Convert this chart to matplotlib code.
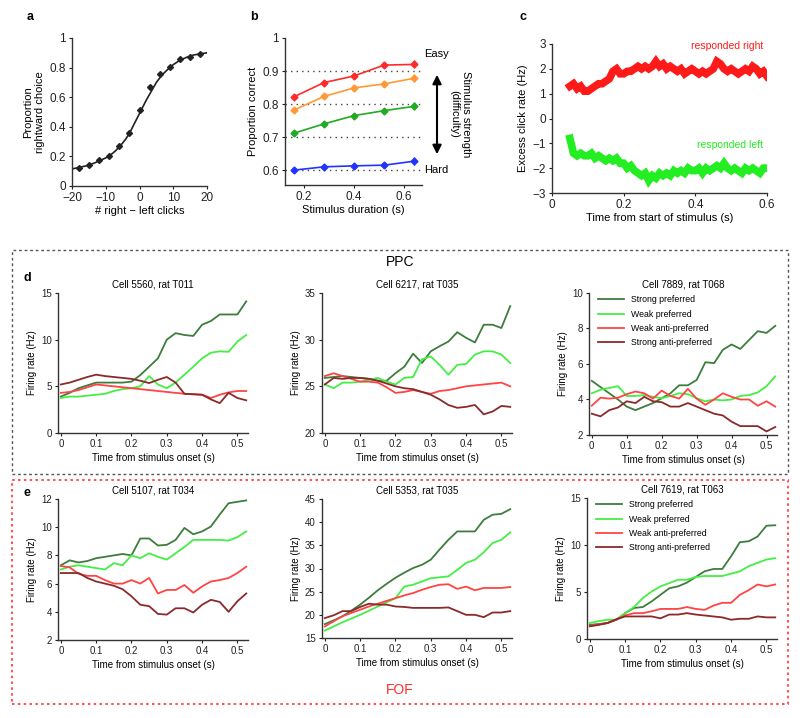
import matplotlib
matplotlib.use("Agg")
import matplotlib.pyplot as plt
from matplotlib.patches import Rectangle, FancyArrowPatch

plt.rcParams['font.family'] = ['Liberation Sans', 'DejaVu Sans']

W, H = 800, 718

# ---------------- data ----------------
# panel a
a_clicks = [-18, -15, -12, -9, -6, -3, 0, 3, 6, 9, 12, 15, 18]
a_prop = [0.12, 0.145, 0.175, 0.205, 0.27, 0.355, 0.515, 0.67, 0.76, 0.805, 0.855, 0.875, 0.89]
a_fit_x = [-20, -18, -16, -14, -12, -10, -8, -7, -6, -5, -4, -3, -2, -1, 0, 1, 2, 3, 4, 5, 6,
           7, 8, 10, 12, 14, 16, 18, 20]
a_fit_y = [0.115, 0.125, 0.135, 0.15, 0.168, 0.19, 0.22, 0.24, 0.265, 0.29, 0.32, 0.355, 0.40,
           0.445, 0.49, 0.535, 0.58, 0.62, 0.66, 0.70, 0.73, 0.757, 0.78, 0.82, 0.85, 0.87,
           0.885, 0.893, 0.90]

# panel b
b_dur = [0.16, 0.28, 0.40, 0.52, 0.64]
b_easy = [0.822, 0.865, 0.885, 0.918, 0.920]
b_mid1 = [0.782, 0.823, 0.849, 0.861, 0.878]
b_mid2 = [0.712, 0.740, 0.765, 0.780, 0.793]
b_hard = [0.600, 0.610, 0.613, 0.615, 0.627]
b_err = [0.005, 0.007, 0.008, 0.009, 0.012]

# panel c
c_time = [0.05, 0.06, 0.07, 0.08, 0.09, 0.10, 0.11, 0.12, 0.13, 0.14, 0.15, 0.16, 0.17, 0.18,
          0.19, 0.20, 0.21, 0.22, 0.23, 0.24, 0.25, 0.26, 0.27, 0.28, 0.29, 0.30, 0.31, 0.32,
          0.33, 0.34, 0.35, 0.36, 0.37, 0.38, 0.39, 0.40, 0.41, 0.42, 0.43, 0.44, 0.45, 0.46,
          0.47, 0.48, 0.49, 0.50, 0.51, 0.52, 0.53, 0.54, 0.55, 0.56, 0.57, 0.58, 0.59, 0.60]
c_right = [1.3, 1.4, 1.2, 1.3, 1.1, 1.1, 1.2, 1.3, 1.4, 1.4, 1.5, 1.6, 1.9, 2.0, 1.8, 1.8, 1.9,
           1.9, 2.0, 2.1, 2.0, 2.1, 2.0, 2.1, 2.3, 2.1, 2.2, 2.0, 2.1, 2.0, 1.9, 2.0, 1.8, 1.9,
           2.0, 1.9, 1.8, 1.9, 1.8, 1.9, 2.0, 2.3, 2.2, 2.0, 1.9, 2.0, 1.9, 1.8, 1.9, 2.0, 1.9,
           2.1, 2.0, 1.8, 1.9, 1.7]
c_left = [-0.8, -1.4, -1.5, -1.4, -1.5, -1.5, -1.4, -1.6, -1.5, -1.6, -1.7, -1.6, -1.7, -1.6,
          -1.8, -1.8, -2.0, -1.9, -2.1, -2.2, -2.3, -2.2, -2.5, -2.3, -2.4, -2.2, -2.3, -2.2,
          -2.3, -2.1, -2.2, -2.1, -2.2, -2.0, -2.1, -2.1, -2.0, -2.2, -2.0, -2.1, -2.0, -1.9,
          -2.0, -1.8, -2.0, -2.1, -2.0, -2.1, -2.2, -2.0, -2.1, -2.0, -2.1, -2.2, -2.0, -2.0]

# panels d/e
t = [0.0, 0.025, 0.05, 0.075, 0.1, 0.125, 0.15, 0.175, 0.2, 0.225, 0.25, 0.275, 0.3, 0.325,
     0.35, 0.375, 0.4, 0.425, 0.45, 0.475, 0.5, 0.525]
series_names = ['Strong preferred', 'Weak preferred', 'Weak anti-preferred', 'Strong anti-preferred']

d1_titles = 'Cell 5560, rat T011'
d1_sp = [3.9, 4.3, 4.8, 5.1, 5.4, 5.4, 5.4, 5.4, 5.5, 6.2, 7.1, 8.0, 10.0, 10.7, 10.5, 10.4, 11.6, 12.0, 12.7, 12.7, 12.7, 14.1]
d1_wp = [3.75, 3.9, 3.9, 4.0, 4.1, 4.2, 4.5, 4.7, 4.8, 5.0, 6.1, 5.2, 4.8, 5.4, 6.25, 7.1, 8.0, 8.6, 8.75, 8.7, 9.8, 10.5]
d1_wa = [4.3, 4.4, 4.6, 4.9, 5.2, 5.1, 5.0, 4.9, 4.8, 4.7, 4.6, 4.5, 4.4, 4.3, 4.2, 4.15, 4.1, 3.75, 4.1, 4.35, 4.5, 4.5]
d1_sa = [5.2, 5.4, 5.7, 6.0, 6.25, 6.1, 6.0, 5.9, 5.8, 5.6, 5.35, 5.7, 6.0, 5.4, 4.2, 4.15, 4.1, 3.6, 3.2, 4.3, 3.75, 3.5]

d2_title = 'Cell 6217, rat T035'
d2_sp = [25.9, 26.0, 26.1, 26.0, 25.9, 25.8, 25.6, 25.6, 26.4, 27.1, 28.5, 27.5, 28.75, 29.3, 29.8, 30.8, 30.2, 29.7, 31.6, 31.6, 31.25, 33.6]
d2_wp = [25.2, 24.8, 25.4, 25.4, 25.5, 25.7, 25.9, 25.5, 25.2, 25.9, 26.0, 27.9, 28.2, 27.3, 26.25, 27.3, 27.4, 28.4, 28.75, 28.75, 28.4, 27.5]
d2_wa = [26.1, 26.4, 26.1, 25.8, 25.5, 25.5, 25.4, 24.9, 24.3, 24.4, 24.6, 24.4, 24.2, 24.5, 24.6, 24.8, 25.0, 25.1, 25.2, 25.3, 25.4, 25.0]
d2_sa = [25.2, 25.9, 25.8, 25.9, 25.9, 25.8, 25.6, 25.3, 25.0, 24.8, 24.7, 24.4, 24.1, 23.6, 23.0, 22.7, 22.8, 23.0, 22.0, 22.3, 22.9, 22.8]

d3_title = 'Cell 7889, rat T068'
d3_sp = [5.05, 4.7, 4.35, 4.0, 3.6, 3.4, 3.6, 3.8, 4.07, 4.35, 4.8, 4.8, 5.1, 6.1, 6.05, 6.8, 7.1, 6.85, 7.35, 7.85, 7.75, 8.15]
d3_wp = [4.35, 4.55, 4.65, 4.75, 4.2, 4.2, 4.25, 4.15, 4.07, 4.2, 4.35, 4.3, 4.07, 3.9, 4.0, 3.95, 4.0, 4.2, 4.25, 4.4, 4.75, 5.3]
d3_wa = [3.65, 4.1, 4.05, 4.1, 4.3, 4.45, 4.35, 4.05, 4.5, 4.2, 4.05, 4.6, 4.05, 3.7, 4.0, 4.35, 4.15, 4.0, 4.0, 3.65, 3.9, 3.6]
d3_sa = [3.2, 3.05, 3.4, 3.55, 3.9, 3.8, 4.15, 3.9, 3.85, 3.6, 3.6, 3.8, 3.6, 3.4, 3.2, 3.1, 2.75, 2.5, 2.5, 2.5, 2.2, 2.45]

e1_title = 'Cell 5107, rat T034'
e1_sp = [7.3, 7.65, 7.5, 7.6, 7.8, 7.9, 8.0, 8.1, 8.0, 9.2, 9.2, 8.7, 8.75, 9.1, 9.95, 9.5, 9.7, 10.05, 10.9, 11.7, 11.8, 11.9]
e1_wp = [7.0, 7.2, 7.3, 7.2, 7.1, 7.0, 7.45, 7.3, 8.0, 7.8, 8.15, 7.9, 7.7, 8.15, 8.6, 9.1, 9.1, 9.1, 9.1, 9.05, 9.3, 9.7]
e1_wa = [7.25, 7.15, 6.7, 6.55, 6.55, 6.25, 6.0, 6.0, 6.25, 6.0, 6.4, 5.3, 5.55, 5.55, 5.9, 5.35, 5.8, 6.15, 6.25, 6.4, 6.75, 7.2]
e1_sa = [6.75, 6.75, 6.75, 6.4, 6.15, 6.0, 5.85, 5.6, 5.1, 4.5, 4.4, 3.85, 3.8, 4.25, 4.25, 3.95, 4.5, 4.85, 4.7, 4.0, 4.75, 5.3]

e2_title = 'Cell 5353, rat T035'
e2_sp = [18.0, 18.8, 19.7, 20.9, 22.2, 23.7, 25.3, 26.7, 28.0, 29.1, 30.1, 30.8, 31.9, 34.1, 36.2, 38.0, 38.0, 38.0, 40.5, 41.6, 41.8, 42.8]
e2_wp = [16.6, 17.5, 18.4, 19.2, 20.0, 20.9, 21.8, 22.7, 23.6, 26.1, 26.5, 27.2, 27.9, 28.1, 28.3, 29.7, 31.2, 31.9, 33.5, 35.5, 36.2, 37.8]
e2_wa = [17.5, 18.6, 19.7, 20.4, 21.1, 21.8, 22.4, 23.0, 23.6, 24.2, 24.7, 25.4, 26.0, 26.5, 26.6, 25.6, 26.1, 25.3, 25.8, 25.8, 25.8, 26.0]
e2_sa = [19.3, 19.9, 20.8, 20.8, 21.7, 22.4, 22.2, 22.2, 21.8, 21.7, 21.5, 21.5, 21.5, 21.5, 21.6, 20.8, 20.0, 20.0, 19.5, 20.5, 20.5, 20.8]

e3_title = 'Cell 7619, rat T063'
e3_sp = [1.5, 1.6, 1.7, 2.05, 2.75, 3.3, 3.4, 4.0, 4.7, 5.4, 5.6, 6.0, 6.6, 7.2, 7.45, 7.45, 8.8, 10.3, 10.4, 10.9, 12.05, 12.1]
e3_wp = [1.7, 1.9, 2.05, 2.05, 2.75, 3.4, 4.35, 5.05, 5.6, 5.95, 6.3, 6.3, 6.6, 6.7, 6.7, 6.7, 6.95, 7.2, 7.75, 8.1, 8.45, 8.6]
e3_wa = [1.4, 1.55, 1.7, 2.05, 2.5, 2.75, 2.75, 2.95, 3.2, 3.2, 3.2, 3.4, 3.2, 3.1, 3.55, 3.85, 3.85, 4.7, 5.2, 5.8, 5.6, 5.8]
e3_sa = [1.35, 1.5, 1.7, 2.1, 2.4, 2.4, 2.4, 2.4, 2.2, 2.6, 2.6, 2.75, 2.6, 2.5, 2.4, 2.3, 2.05, 2.15, 2.15, 2.4, 2.3, 2.3]

# ---------------- helpers ----------------
fig = plt.figure(figsize=(W / 100, H / 100), dpi=100)


def px_axes(left, top, right, bottom):
    return fig.add_axes([left / W, 1 - bottom / H, (right - left) / W, (bottom - top) / H])


def style(ax, fs):
    for s in ['top', 'right']:
        ax.spines[s].set_visible(False)
    for s in ['left', 'bottom']:
        ax.spines[s].set_linewidth(1.0)
        ax.spines[s].set_color('#333333')
    ax.tick_params(labelsize=fs, length=2.5, width=0.8, colors='#222222', pad=2)


def ftext(x, y, s, **kw):
    fig.text(x / W, 1 - y / H, s, **kw)


# ---------------- panel a ----------------
ax = px_axes(72, 38, 207, 186)
ax.plot(a_fit_x, a_fit_y, color='#222222', lw=1.2)
ax.plot(a_clicks, a_prop, 'D', color='#222222', ms=3)
ax.set_xlim(-20, 20)
ax.set_ylim(0, 1)
ax.set_xticks([-20, -10, 0, 10, 20])
ax.set_yticks([0, 0.2, 0.4, 0.6, 0.8, 1])
ax.set_yticklabels(['0', '0.2', '0.4', '0.6', '0.8', '1'])
style(ax, 8.5)
ax.set_xlabel('# right \u2212 left clicks', fontsize=8, labelpad=1)
ax.set_ylabel('Proportion\nrightward choice', fontsize=8, labelpad=3)
ftext(27, 17, 'a', fontsize=9, fontweight='bold', va='center')

# ---------------- panel b ----------------
ax = px_axes(285, 38, 422, 185)
for lvl in [0.6, 0.7, 0.8, 0.9]:
    ax.axhline(lvl, color='#444444', ls=(0, (1, 3)), lw=1.0, zorder=1)
for ys, col in [(b_easy, '#ff2a2a'), (b_mid1, '#ff9933'), (b_mid2, '#22aa22'), (b_hard, '#2233ff')]:
    ax.errorbar(b_dur, ys, yerr=b_err, color=col, marker='D', ms=3.5, lw=1.2,
                elinewidth=1.0, capsize=0, zorder=3)
ax.set_xlim(0.124, 0.672)
ax.set_ylim(0.555, 1.0)
ax.set_xticks([0.2, 0.4, 0.6])
ax.set_xticklabels(['0.2', '0.4', '0.6'])
ax.set_yticks([0.6, 0.7, 0.8, 0.9, 1.0])
ax.set_yticklabels(['0.6', '0.7', '0.8', '0.9', '1'])
style(ax, 8.5)
ax.set_xlabel('Stimulus duration (s)', fontsize=8, labelpad=1)
ax.set_ylabel('Proportion correct', fontsize=8, labelpad=3)
ftext(424, 54, 'Easy', fontsize=8, va='center', ha='left')
ftext(424, 170, 'Hard', fontsize=8, va='center', ha='left')
arr = FancyArrowPatch((437 / W, 1 - 72 / H), (437 / W, 1 - 157 / H), transform=fig.transFigure,
                      arrowstyle='<|-|>', mutation_scale=13, color='black', lw=1.5)
fig.patches.append(arr)
ftext(460, 114, 'Stimulus strength\n(difficulty)', fontsize=8, rotation=-90,
      ha='center', va='center', multialignment='center')
ftext(250, 17, 'b', fontsize=9, fontweight='bold', va='center')

# ---------------- panel c ----------------
ax = px_axes(552, 44, 767, 193)
ax.plot(c_time, c_right, color='#ff1a1a', lw=5.5, solid_joinstyle='miter')
ax.plot(c_time, c_left, color='#22ee22', lw=5.5, solid_joinstyle='miter')
ax.set_xlim(0, 0.6)
ax.set_ylim(-3, 3)
ax.set_xticks([0, 0.2, 0.4, 0.6])
ax.set_xticklabels(['0', '0.2', '0.4', '0.6'])
ax.set_yticks([-3, -2, -1, 0, 1, 2, 3])
style(ax, 8.5)
ax.set_xlabel('Time from start of stimulus (s)', fontsize=8, labelpad=1)
ax.set_ylabel('Excess click rate (Hz)', fontsize=8, labelpad=3)
ax.text(0.59, 2.9, 'responded right', color='#ff1a1a', fontsize=7.5, ha='right', va='center')
ax.text(0.59, -1.05, 'responded left', color='#22ee22', fontsize=7.5, ha='right', va='center')
ftext(519, 17, 'c', fontsize=9, fontweight='bold', va='center')

# ---------------- boxes ----------------
fig.patches.append(Rectangle((12 / W, 1 - 474 / H), 776 / W, 224 / H, transform=fig.transFigure,
                             fill=False, ec='#555555', ls=(0, (2, 2)), lw=1.0))
fig.patches.append(Rectangle((12 / W, 1 - 704 / H), 776 / W, 224 / H, transform=fig.transFigure,
                             fill=False, ec='#ff3333', ls=(0, (1.5, 2)), lw=1.2))
ftext(400, 262, 'PPC', fontsize=10, ha='center', va='center')
ftext(400, 690, 'FOF', fontsize=10, ha='center', va='center', color='#ff2a2a')
ftext(24, 278, 'd', fontsize=9, fontweight='bold', va='center')
ftext(24, 493, 'e', fontsize=9, fontweight='bold', va='center')

# ---------------- panels d/e ----------------
cols = ['#3d7d3d', '#44ee44', '#ff4444', '#8b2a2a']
panels = [
    (58, 248, 293, 433, d1_titles, [d1_sp, d1_wp, d1_wa, d1_sa], (0, 15), [0, 5, 10, 15], False),
    (322, 512, 293, 433, d2_title, [d2_sp, d2_wp, d2_wa, d2_sa], (20, 35), [20, 25, 30, 35], False),
    (589, 777, 293, 435, d3_title, [d3_sp, d3_wp, d3_wa, d3_sa], (2, 10), [2, 4, 6, 8, 10], True),
    (58, 248, 499, 640, e1_title, [e1_sp, e1_wp, e1_wa, e1_sa], (2, 12), [2, 4, 6, 8, 10, 12], False),
    (322, 512, 499, 638, e2_title, [e2_sp, e2_wp, e2_wa, e2_sa], (15, 45), [15, 20, 25, 30, 35, 40, 45], False),
    (587, 777, 498, 639, e3_title, [e3_sp, e3_wp, e3_wa, e3_sa], (0, 15), [0, 5, 10, 15], True),
]
for left, right, top, bottom, title, ser, ylim, yt, leg in panels:
    ax = px_axes(left, top, right, bottom)
    for ys, col, name in zip(ser, cols, series_names):
        ax.plot(t, ys, color=col, lw=1.3, label=name)
    ax.set_xlim(-0.008, 0.53)
    ax.set_ylim(*ylim)
    ax.set_yticks(yt)
    ax.set_xticks([0, 0.1, 0.2, 0.3, 0.4, 0.5])
    ax.set_xticklabels(['0', '0.1', '0.2', '0.3', '0.4', '0.5'])
    style(ax, 7)
    ax.set_title(title, fontsize=7, pad=4)
    ax.set_xlabel('Time from stimulus onset (s)', fontsize=7, labelpad=3)
    ax.set_ylabel('Firing rate (Hz)', fontsize=7, labelpad=3)
    if leg:
        ax.legend(loc='upper left', frameon=False, fontsize=6.3, handlelength=3,
                  borderaxespad=0.2, labelspacing=0.6, bbox_to_anchor=(0.02, 1.02))

fig.savefig('out.png', dpi=100)
